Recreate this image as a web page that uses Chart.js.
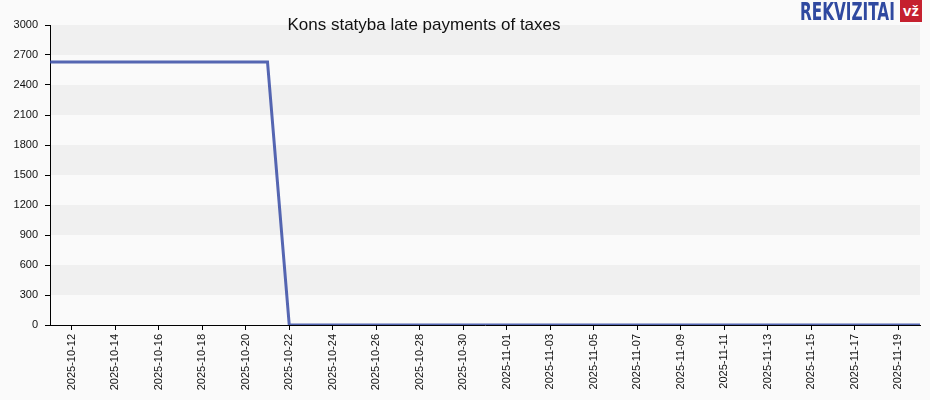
<!DOCTYPE html>
<html>
<head>
<meta charset="utf-8">
<script src="https://cdn.jsdelivr.net/npm/chart.js@4"></script>
<style>
  html, body { margin: 0; padding: 0; background: #fafafa; }
  #wrap { position: relative; width: 930px; height: 400px; }
  #title { position: absolute; left: 0; width: 848px; top: 15px; text-align: center;
           font: 17px Arial, "Liberation Sans", sans-serif; color: #111; }
  #logo { position: absolute; left: 800px; top: -3px; white-space: nowrap;
          font: bold 25px "DejaVu Sans Condensed", Arial, sans-serif;
          color: #2f49a0; transform-origin: left top; }
  #vz { position: absolute; left: 900px; top: 0px; width: 22px; height: 22px; background: #c5202e;
        color: #fff; font: bold 15px Arial, "Liberation Sans", sans-serif; text-align: center; line-height: 21px; }
</style>
</head>
<body>
<div id="wrap">
  <canvas id="chart" width="930" height="400"></canvas>
  <div id="title">Kons statyba late payments of taxes</div>
  <div id="logo">REKVIZITAI</div>
  <div id="vz">vž</div>
</div>
<script>
const dates = [
  '2025-10-11', '2025-10-12', '2025-10-13', '2025-10-14', '2025-10-15', '2025-10-16', '2025-10-17',
  '2025-10-18', '2025-10-19', '2025-10-20', '2025-10-21', '2025-10-22', '2025-10-23', '2025-10-24',
  '2025-10-25', '2025-10-26', '2025-10-27', '2025-10-28', '2025-10-29', '2025-10-30', '2025-10-31',
  '2025-11-01', '2025-11-02', '2025-11-03', '2025-11-04', '2025-11-05', '2025-11-06', '2025-11-07',
  '2025-11-08', '2025-11-09', '2025-11-10', '2025-11-11', '2025-11-12', '2025-11-13', '2025-11-14',
  '2025-11-15', '2025-11-16', '2025-11-17', '2025-11-18', '2025-11-19', '2025-11-20'
];

const lateTaxes = [
  2630, 2630, 2630, 2630, 2630, 2630, 2630, 2630, 2630, 2630, 2630, 0, 0, 0,
  0, 0, 0, 0, 0, 0, 0, 0, 0, 0, 0, 0, 0, 0,
  0, 0, 0, 0, 0, 0, 0, 0, 0, 0, 0, 0, 0
];

const yMax = 3000;
const yStep = 300;

// squeeze the logo word into its box
const logo = document.getElementById('logo');
logo.style.transform = 'scaleX(' + (95 / logo.offsetWidth) + ')';

// alternating horizontal bands behind the plot
const bandsPlugin = {
  id: 'bands',
  beforeDraw(chart) {
    const { ctx, chartArea, scales } = chart;
    ctx.save();
    for (let v = 0; v < yMax; v += yStep) {
      const idx = v / yStep;
      ctx.fillStyle = idx % 2 === 0 ? '#fafafa' : '#f0f0f0';
      const yTop = scales.y.getPixelForValue(v + yStep);
      const yBot = scales.y.getPixelForValue(v);
      ctx.fillRect(chartArea.left, yTop, chartArea.right - chartArea.left, yBot - yTop);
    }
    ctx.restore();
  }
};

const font = { family: 'Arial, "Liberation Sans", sans-serif', size: 11 };

new Chart(document.getElementById('chart'), {
  type: 'line',
  data: {
    labels: dates,
    datasets: [{
      data: lateTaxes,
      borderColor: 'rgba(55, 75, 165, 0.85)',
      borderWidth: 3,
      pointRadius: 0,
      tension: 0,
      fill: false
    }]
  },
  plugins: [bandsPlugin],
  options: {
    responsive: false,
    animation: false,
    layout: { padding: { top: 25, right: 10, left: 0, bottom: 0 } },
    plugins: {
      legend: { display: false },
      title: { display: false },
      tooltip: { enabled: false }
    },
    scales: {
      x: {
        offset: false,
        border: { display: true, color: '#000', width: 1 },
        grid: { drawOnChartArea: false, color: '#000', tickLength: 5 },
        ticks: {
          autoSkip: false,
          maxRotation: 90,
          minRotation: 90,
          padding: 4,
          color: '#111',
          font: font,
          callback: function (val, i) { return i % 2 === 1 ? dates[i] : null; }
        },
        afterFit(scale) { scale.height = 75; }
      },
      y: {
        min: 0,
        max: yMax,
        border: { display: true, color: '#000', width: 1 },
        grid: { drawOnChartArea: false, color: '#000', tickLength: 5 },
        ticks: {
          stepSize: yStep,
          padding: 7,
          color: '#111',
          font: font,
          callback: function (val) { return String(val); }
        },
        afterFit(scale) { scale.width = 50; }
      }
    }
  }
});
</script>
</body>
</html>
